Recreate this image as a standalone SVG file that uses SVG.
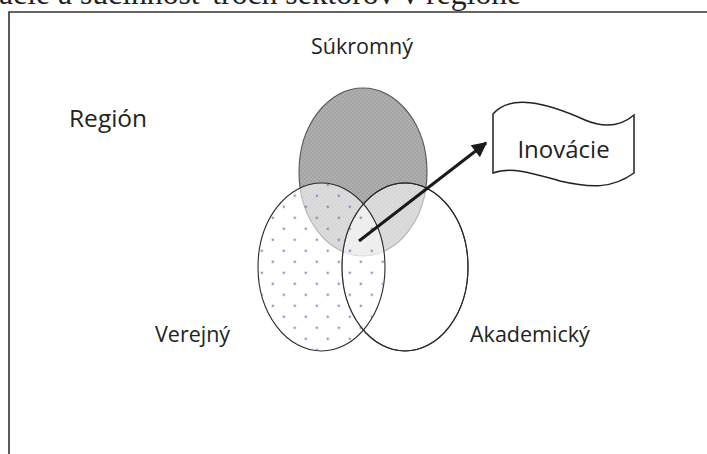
<svg xmlns="http://www.w3.org/2000/svg" width="707" height="454" viewBox="0 0 707 454">
<style>
.lbl{font-family:"Open Sans","Liberation Sans",sans-serif;fill:#222;}
.ell{stroke:#2a2a2a;stroke-width:1.1;}
.title{font-family:"Liberation Serif","Times New Roman",serif;font-size:31.7px;fill:#222;}
</style>
<defs>
<pattern id="checker" patternUnits="userSpaceOnUse" width="4" height="4">
<rect width="4" height="4" fill="#a4a4a4"/>
<rect width="2" height="2" fill="#afafaf"/>
<rect x="2" y="2" width="2" height="2" fill="#afafaf"/>
</pattern>
<pattern id="dots" patternUnits="userSpaceOnUse" x="256.7" y="245.7" width="22" height="22">
<rect x="4" y="4" width="2.2" height="2.2" fill="#7272bc"/>
<rect x="15" y="15" width="2.2" height="2.2" fill="#7272bc"/>
</pattern>
<marker id="ah" viewBox="0 0 10 10" refX="9" refY="5" markerWidth="5.5" markerHeight="5" orient="auto" markerUnits="strokeWidth">
<path d="M0,0 L10,5 L0,10 Z" fill="#1a1a1a"/>
</marker>
</defs>
<rect width="707" height="454" fill="#ffffff"/>
<text class="title" x="-1" y="4">acie a súčinnosť troch sektorov v regióne</text>
<path d="M9,460 L9,12 L712,12" fill="none" stroke="#333" stroke-width="1.6"/>
<g id="sukromny">
<ellipse cx="363" cy="172" rx="64" ry="84" fill="url(#checker)" stroke="#555" stroke-width="1.1"/>
<text class="lbl" x="362" y="54" font-size="21.5" text-anchor="middle">Súkromný</text>
</g>
<g id="akademicky">
<ellipse class="ell" cx="405" cy="267" rx="63" ry="84" fill="#ffffff" fill-opacity="0.56"/>
<text class="lbl" x="470" y="342" font-size="21.5">Akademický</text>
</g>
<g id="verejny">
<ellipse class="ell" cx="321.5" cy="267" rx="63.5" ry="84" fill="#ffffff" fill-opacity="0.56"/>
<ellipse cx="321.5" cy="267" rx="63.5" ry="84" fill="url(#dots)" opacity="0.8"/>
<ellipse cx="405" cy="267" rx="63" ry="84" fill="none" stroke="#2a2a2a" stroke-width="1.1"/>
<text class="lbl" x="155" y="342" font-size="21.5">Verejný</text>
</g>
<g id="region">
<text class="lbl" x="69" y="127" font-size="24.5">Región</text>
</g>
<g id="inovacie">
<path d="M493,114 C510,94 545,102 585,120 C606,129 621,126 634,115 L634,173 C612,189 590,188 560,181 C535,174 512,166 493,173 Z" fill="#ffffff" stroke="#222" stroke-width="1.5"/>
<text class="lbl" x="563.5" y="158" font-size="24" text-anchor="middle">Inovácie</text>
</g>
<g id="connectors">
<line x1="359" y1="241" x2="486" y2="143" stroke="#1a1a1a" stroke-width="3" marker-end="url(#ah)"/>
</g>
</svg>
